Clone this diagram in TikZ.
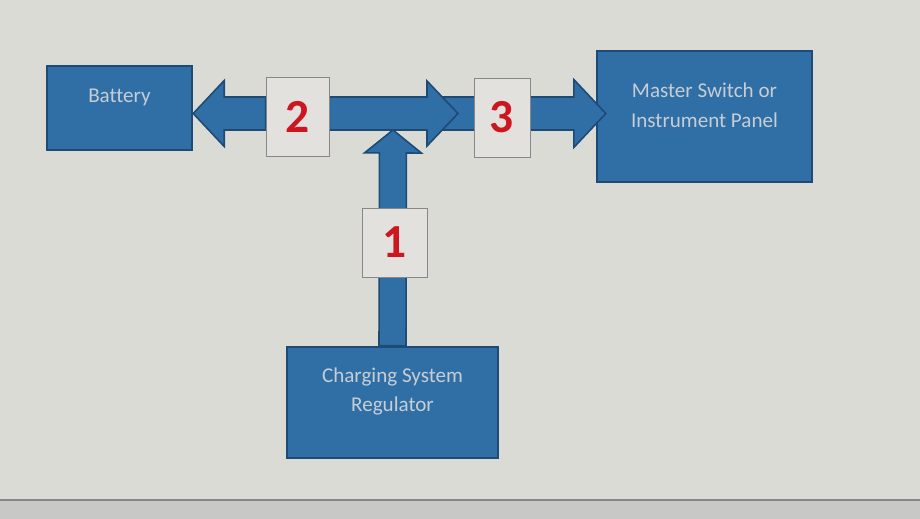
\documentclass[tikz,border=0pt]{standalone}
\usepackage{fontspec}
\setmainfont{Carlito}[Ligatures=NoCommon]
\usetikzlibrary{calc}
\usetikzlibrary{positioning}

\definecolor{paper}{RGB}{219,219,214}
\definecolor{strip}{RGB}{200,201,198}
\definecolor{boxblue}{RGB}{47,111,166}
\definecolor{boxedge}{RGB}{30,74,118}
\definecolor{numfill}{RGB}{226,225,221}
\definecolor{numedge}{RGB}{135,135,135}
\definecolor{numred}{RGB}{205,22,32}
\definecolor{labelgray}{RGB}{198,205,212}

\pgfdeclarelayer{back}
\pgfdeclarelayer{flow}
\pgfsetlayers{back,flow,main}

\tikzset{
  bigbox/.style={draw=boxedge, line width=1.4pt, fill=boxblue},
  numbox/.style={draw=numedge, line width=0.5pt, fill=numfill,
    font=\fontsize{27}{27}\selectfont\bfseries, text=numred},
  boxtext/.style={text=labelgray, align=center,
    font=\fontsize{12}{17}\selectfont},
  flowarrow/.style={draw=boxedge, line width=0.9pt, fill=boxblue, line join=miter}
}

% block arrow: from, to, shaft half width, head half width, head length
\newcommand{\blockarrow}[5]{%
  \draw[flowarrow] let \p1=(#1), \p2=(#2),
      \n1={atan2(\y2-\y1,\x2-\x1)}, \n2={veclen(\x2-\x1,\y2-\y1)} in
    [shift={(\p1)}, rotate=\n1]
    (0pt,-#3) -- (\n2-#5,-#3) -- (\n2-#5,-#4) -- (\n2,0pt)
    -- (\n2-#5,#4) -- (\n2-#5,#3) -- (0pt,#3) -- cycle;
}

\begin{document}
\begin{tikzpicture}[x=0.02cm, y=-0.02cm]

    \useasboundingbox (0,0) rectangle (920,519);

    \begin{pgfonlayer}{back}
    \fill[paper] (0,0) rectangle (920,519);
    \fill[strip] (0,500) rectangle (920,519);
    \draw[numedge, line width=0.6pt] (0,500) -- (920,500);

    % the three units
    \node[bigbox, minimum width=2.9cm, minimum height=1.68cm] (bat) at (119.5,108) {};
    \node[bigbox, minimum width=4.3cm, minimum height=2.62cm] (ms) at (704.5,116.5) {};
    \node[bigbox, minimum width=4.22cm, minimum height=2.22cm] (reg) at (392.5,402.5) {};

    \node[boxtext] (battxt) at ($(bat)+(0,-11)$) {Battery};
    \node[boxtext] (mstxt) at ($(ms)+(0,-11.5)$) {Master Switch or\\Instrument Panel};
    \node[boxtext] (regtxt) at ($(reg)+(0,-11)$) {Charging System\\Regulator};
    \end{pgfonlayer}

    % number boxes
    \node[numbox, minimum width=1.26cm, minimum height=1.58cm] (two) at (297.5,116.5) {2};
    \node[numbox, minimum width=1.12cm, minimum height=1.58cm] (three) at (502,117.5) {3};
    \node[numbox, minimum width=1.3cm, minimum height=1.38cm] (one) at (394.5,242.5) {1};

    % bus line points
    \coordinate (bus) at (393,113.5);
    \coordinate (jointip) at (458,113.5);
    \coordinate (uptip) at (393,130);
    \coordinate (cstart) at ($(jointip)+(-18,0)$);
    \coordinate (mstip) at ($(ms.west |- bus)+(10,0)$);

    % arrows, under the number boxes
    \begin{pgfonlayer}{flow}
    \blockarrow{cstart}{mstip}{0.33cm}{0.68cm}{0.64cm}
    \blockarrow{two.east |- bus}{jointip}{0.33cm}{0.65cm}{0.62cm}
    \blockarrow{two.west |- bus}{bat.east |- bus}{0.33cm}{0.66cm}{0.62cm}
    \blockarrow{reg.north}{uptip}{0.27cm}{0.57cm}{0.46cm}
    \end{pgfonlayer}

\end{tikzpicture}
\end{document}
